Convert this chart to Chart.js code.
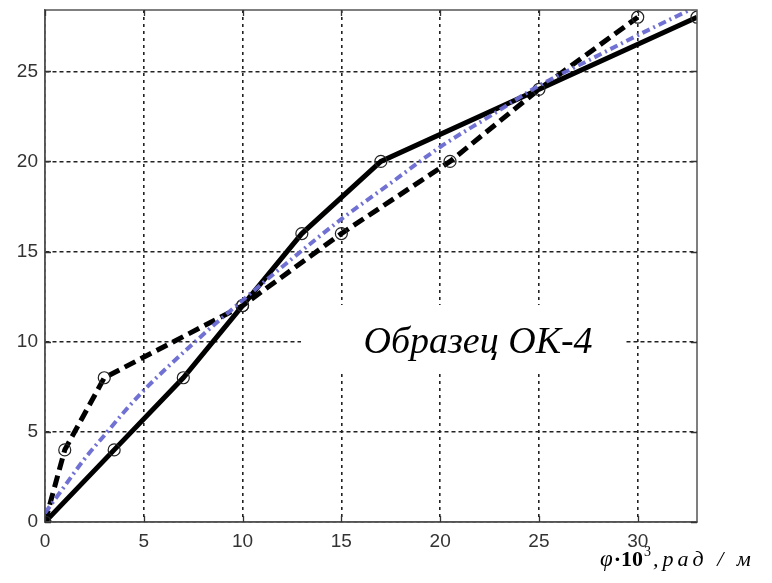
<!DOCTYPE html>
<html>
<head>
<meta charset="utf-8">
<script src="https://cdn.jsdelivr.net/npm/chart.js@4.4.0/dist/chart.umd.min.js"></script>
<style>
    html, body { margin: 0; padding: 0; background: #fff; }
    #wrap { width: 772px; height: 583px; }
</style>
</head>
<body>
<div id="wrap"><canvas id="chart" width="772" height="583"></canvas></div>
<script>
// Sample OK-4: two measured runs and the fitted curve
const run1X = [0, 3.5, 7, 10, 13, 17, 33];
const run1Y = [0, 4, 8, 12, 16, 20, 28];
const run2X = [0, 1, 3, 10, 15, 20.5, 25, 30];
const run2Y = [0, 4, 8, 12, 16, 20, 24, 28];
const fitX = [0, 1, 2, 3, 4, 5, 7.5, 10, 12.5, 15, 17.5, 20, 22.5, 25, 27.5, 30, 33];
const fitY = [0.5, 2.0, 3.5, 4.8, 6.1, 7.3, 9.9, 12.3, 14.6, 16.8, 18.8, 20.8, 22.5, 24.2, 25.6, 27.0, 28.6];

const xTicks = [0, 5, 10, 15, 20, 25, 30];
const yTicks = [0, 5, 10, 15, 20, 25];
const xRange = [0, 33];
const yRange = [0, 28.4];

const sampleLabel = 'Образец ОК-4';

const toPoints = (xs, ys) => xs.map((v, i) => ({ x: v, y: ys[i] }));

// Box around the plot with inward ticks, the sample label and the x-axis title
const framePlugin = {
    id: 'frame',
    afterDraw(chart) {
        const { ctx, chartArea: a, scales: { x, y } } = chart;
        ctx.save();

        ctx.strokeStyle = '#555';
        ctx.lineWidth = 1.5;
        ctx.strokeRect(a.left, a.top, a.right - a.left, a.bottom - a.top);

        ctx.strokeStyle = '#333';
        ctx.lineWidth = 1.3;
        ctx.beginPath();
        xTicks.forEach(v => {
            const px = Math.round(x.getPixelForValue(v)) + 0.5;
            ctx.moveTo(px, a.bottom); ctx.lineTo(px, a.bottom - 6);
            ctx.moveTo(px, a.top); ctx.lineTo(px, a.top + 6);
        });
        yTicks.forEach(v => {
            const py = Math.round(y.getPixelForValue(v)) + 0.5;
            ctx.moveTo(a.left, py); ctx.lineTo(a.left + 6, py);
            ctx.moveTo(a.right, py); ctx.lineTo(a.right - 6, py);
        });
        ctx.stroke();

        // label with white background
        ctx.fillStyle = '#fff';
        ctx.fillRect(a.left + 256, a.top + 295, 325, 66);
        ctx.fillStyle = '#000';
        ctx.font = 'italic 38px "Liberation Serif"';
        ctx.textAlign = 'center';
        ctx.textBaseline = 'alphabetic';
        ctx.fillText(sampleLabel, a.left + 433, a.top + 343);

        // x-axis title: φ·10³, рад/м
        ctx.textAlign = 'left';
        let cx = 600;
        const base = 566;
        ctx.font = 'italic 23px "Liberation Serif"';
        ctx.fillText('φ', cx, base);
        cx += ctx.measureText('φ').width + 1;
        ctx.font = 'bold 22px "Liberation Serif"';
        ctx.fillText('·10', cx, base);
        cx += ctx.measureText('·10').width;
        ctx.font = '14px "Liberation Serif"';
        ctx.fillText('3', cx + 1, base - 10);
        cx += ctx.measureText('3').width + 3;
        ctx.font = 'italic 22px "Liberation Serif"';
        ctx.letterSpacing = '4px';
        ctx.fillText(',рад / м', cx, base);

        ctx.restore();
    }
};

const lineStyle = {
    borderColor: '#000',
    borderWidth: 5,
    pointRadius: 6,
    pointBorderWidth: 1.2,
    pointBorderColor: '#222',
    pointBackgroundColor: 'rgba(0,0,0,0)',
    tension: 0
};

new Chart(document.getElementById('chart'), {
    type: 'line',
    data: {
        datasets: [
            {
                label: 'fit',
                data: toPoints(fitX, fitY),
                borderColor: 'rgba(105, 105, 210, 0.95)',
                borderWidth: 4,
                borderDash: [8, 4, 2, 4],
                pointRadius: 0,
                cubicInterpolationMode: 'monotone',
                order: 0
            },
            Object.assign({ label: 'run 1', data: toPoints(run1X, run1Y), order: 2 }, lineStyle),
            Object.assign({ label: 'run 2', data: toPoints(run2X, run2Y), borderDash: [12, 6], order: 1 }, lineStyle)
        ]
    },
    options: {
        responsive: false,
        animation: false,
        layout: { padding: { left: 0, top: 10, right: 75, bottom: 0 } },
        plugins: {
            legend: { display: false },
            tooltip: { enabled: false }
        },
        scales: {
            x: {
                type: 'linear',
                min: xRange[0],
                max: xRange[1],
                afterBuildTicks: scale => { scale.ticks = xTicks.map(v => ({ value: v })); },
                afterFit: scale => {
                    scale.height = 61;
                    scale.paddingLeft = 0;
                    scale.paddingRight = 0;
                },
                ticks: {
                    padding: 8,
                    color: '#333',
                    font: { family: '"Liberation Sans"', size: 19 },
                    maxRotation: 0
                },
                grid: { color: '#222', lineWidth: 1.6, drawTicks: false },
                border: { color: '#555', width: 1.5, dash: [3, 4] }
            },
            y: {
                type: 'linear',
                min: yRange[0],
                max: yRange[1],
                afterBuildTicks: scale => { scale.ticks = yTicks.map(v => ({ value: v })); },
                afterFit: scale => {
                    scale.width = 45;
                    scale.paddingTop = 0;
                    scale.paddingBottom = 0;
                },
                ticks: {
                    padding: 7,
                    color: '#333',
                    font: { family: '"Liberation Sans"', size: 19 }
                },
                grid: { color: '#222', lineWidth: 1.4, drawTicks: false },
                border: { color: '#555', width: 1.5, dash: [4, 3] }
            }
        }
    },
    plugins: [framePlugin]
});
</script>
</body>
</html>
